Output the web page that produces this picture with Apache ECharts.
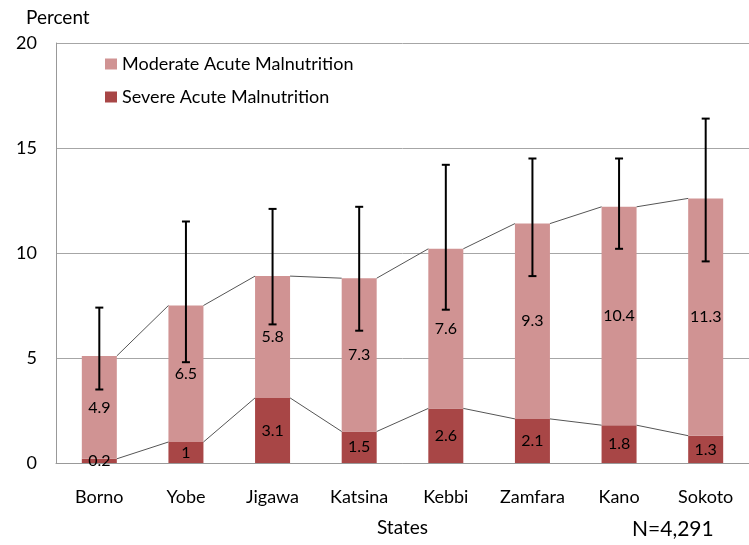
<!DOCTYPE html>
<html>
<head>
<meta charset="utf-8">
<script src="https://cdn.jsdelivr.net/npm/echarts@6/dist/echarts.min.js"></script>
<style>
  html, body { margin: 0; padding: 0; background: #fff; }
  #chart { width: 749px; height: 545px; }
</style>
</head>
<body>
<div id="chart"></div>
<script>
const states = ['Borno', 'Yobe', 'Jigawa', 'Katsina', 'Kebbi', 'Zamfara', 'Kano', 'Sokoto'];
const severe = [0.2, 1, 3.1, 1.5, 2.6, 2.1, 1.8, 1.3];
const moderate = [4.9, 6.5, 5.8, 7.3, 7.6, 9.3, 10.4, 11.3];
const ciLow = [3.5, 4.8, 6.6, 6.3, 7.3, 8.9, 10.2, 9.6];
const ciHigh = [7.4, 11.5, 12.1, 12.2, 14.2, 14.5, 14.5, 16.4];
const yTicks = [0, 5, 10, 15, 20];

const FONT = 'Lato';
const BAR_W = 35;

document.addEventListener('DOMContentLoaded', function () {
    const myChart = echarts.init(document.getElementById('chart'));

    const totals = severe.map(function (s, i) { return +(s + moderate[i]).toFixed(1); });

    // connector lines between neighbouring bar tops (right edge -> left edge)
    function connectorData(vals) {
        return vals.slice(0, -1).map(function (v, i) { return [i, v, vals[i + 1]]; });
    }
    function renderConnector(params, api) {
        const i = api.value(0);
        const p1 = api.coord([i, api.value(1)]);
        const p2 = api.coord([i + 1, api.value(2)]);
        return {
            type: 'line',
            shape: { x1: p1[0] + BAR_W / 2, y1: p1[1], x2: p2[0] - BAR_W / 2, y2: p2[1] },
            style: { stroke: '#555', lineWidth: 1 }
        };
    }

    const option = {
        animation: false,
        textStyle: { fontFamily: FONT },
        legend: {
            data: ['Moderate Acute Malnutrition', 'Severe Acute Malnutrition'],
            orient: 'vertical',
            left: 100,
            top: 50,
            icon: 'rect',
            itemWidth: 12,
            itemHeight: 11,
            itemGap: 15,
            textStyle: { fontFamily: FONT, fontSize: 18, color: '#000' }
        },
        grid: {
            left: 56,
            top: 43,
            width: 701,
            height: 420
        },
        xAxis: {
            type: 'category',
            data: states,
            name: 'States',
            nameLocation: 'middle',
            nameGap: 55,
            nameTextStyle: { fontFamily: FONT, fontSize: 19, color: '#000' },
            axisLine: { lineStyle: { color: '#999' } },
            axisTick: { show: false },
            axisLabel: { fontFamily: FONT, fontSize: 18, color: '#000', margin: 25 }
        },
        yAxis: {
            type: 'value',
            min: yTicks[0],
            max: yTicks[yTicks.length - 1],
            interval: 5,
            name: 'Percent',
            nameLocation: 'end',
            nameGap: 16,
            nameTextStyle: { fontFamily: FONT, fontSize: 19, color: '#000', align: 'left', padding: [0, 0, 0, -30] },
            axisLine: { show: true, lineStyle: { color: '#999' } },
            axisTick: { show: false },
            splitLine: { lineStyle: { color: '#a6a6a6' } },
            axisLabel: { fontFamily: FONT, fontSize: 18, color: '#000', margin: 19 }
        },
        series: [
            {
                name: 'Severe Acute Malnutrition',
                type: 'bar',
                stack: 'mal',
                barWidth: BAR_W,
                data: severe,
                itemStyle: { color: '#a84646' },
                label: { show: true, position: 'inside', color: '#000', fontFamily: FONT, fontSize: 16 }
            },
            {
                name: 'Moderate Acute Malnutrition',
                type: 'bar',
                stack: 'mal',
                barWidth: BAR_W,
                data: moderate,
                itemStyle: { color: '#d09393' },
                label: { show: true, position: 'inside', color: '#000', fontFamily: FONT, fontSize: 16 }
            },
            {
                name: 'totalLine',
                type: 'custom',
                data: connectorData(totals),
                encode: { x: 0, y: 1 },
                renderItem: renderConnector,
                silent: true,
                z: 3
            },
            {
                name: 'severeLine',
                type: 'custom',
                data: connectorData(severe),
                encode: { x: 0, y: 1 },
                renderItem: renderConnector,
                silent: true,
                z: 3
            },
            {
                name: 'ci',
                type: 'custom',
                data: states.map(function (s, i) { return [i, ciLow[i], ciHigh[i]]; }),
                encode: { x: 0, y: [1, 2] },
                silent: true,
                z: 4,
                renderItem: function (params, api) {
                    const lo = api.coord([api.value(0), api.value(1)]);
                    const hi = api.coord([api.value(0), api.value(2)]);
                    const cap = 4;
                    const st = { stroke: '#000', lineWidth: 2 };
                    return {
                        type: 'group',
                        children: [
                            { type: 'line', shape: { x1: lo[0], y1: lo[1], x2: hi[0], y2: hi[1] }, style: st },
                            { type: 'line', shape: { x1: hi[0] - cap, y1: hi[1], x2: hi[0] + cap, y2: hi[1] }, style: st },
                            { type: 'line', shape: { x1: lo[0] - cap, y1: lo[1], x2: lo[0] + cap, y2: lo[1] }, style: st }
                        ]
                    };
                }
            }
        ],
        graphic: [
            {
                type: 'text',
                left: 632,
                top: 519,
                style: { text: 'N=4,291', fontFamily: FONT, fontSize: 21, fill: '#000' }
            }
        ]
    };

    myChart.setOption(option);
});
</script>
</body>
</html>
